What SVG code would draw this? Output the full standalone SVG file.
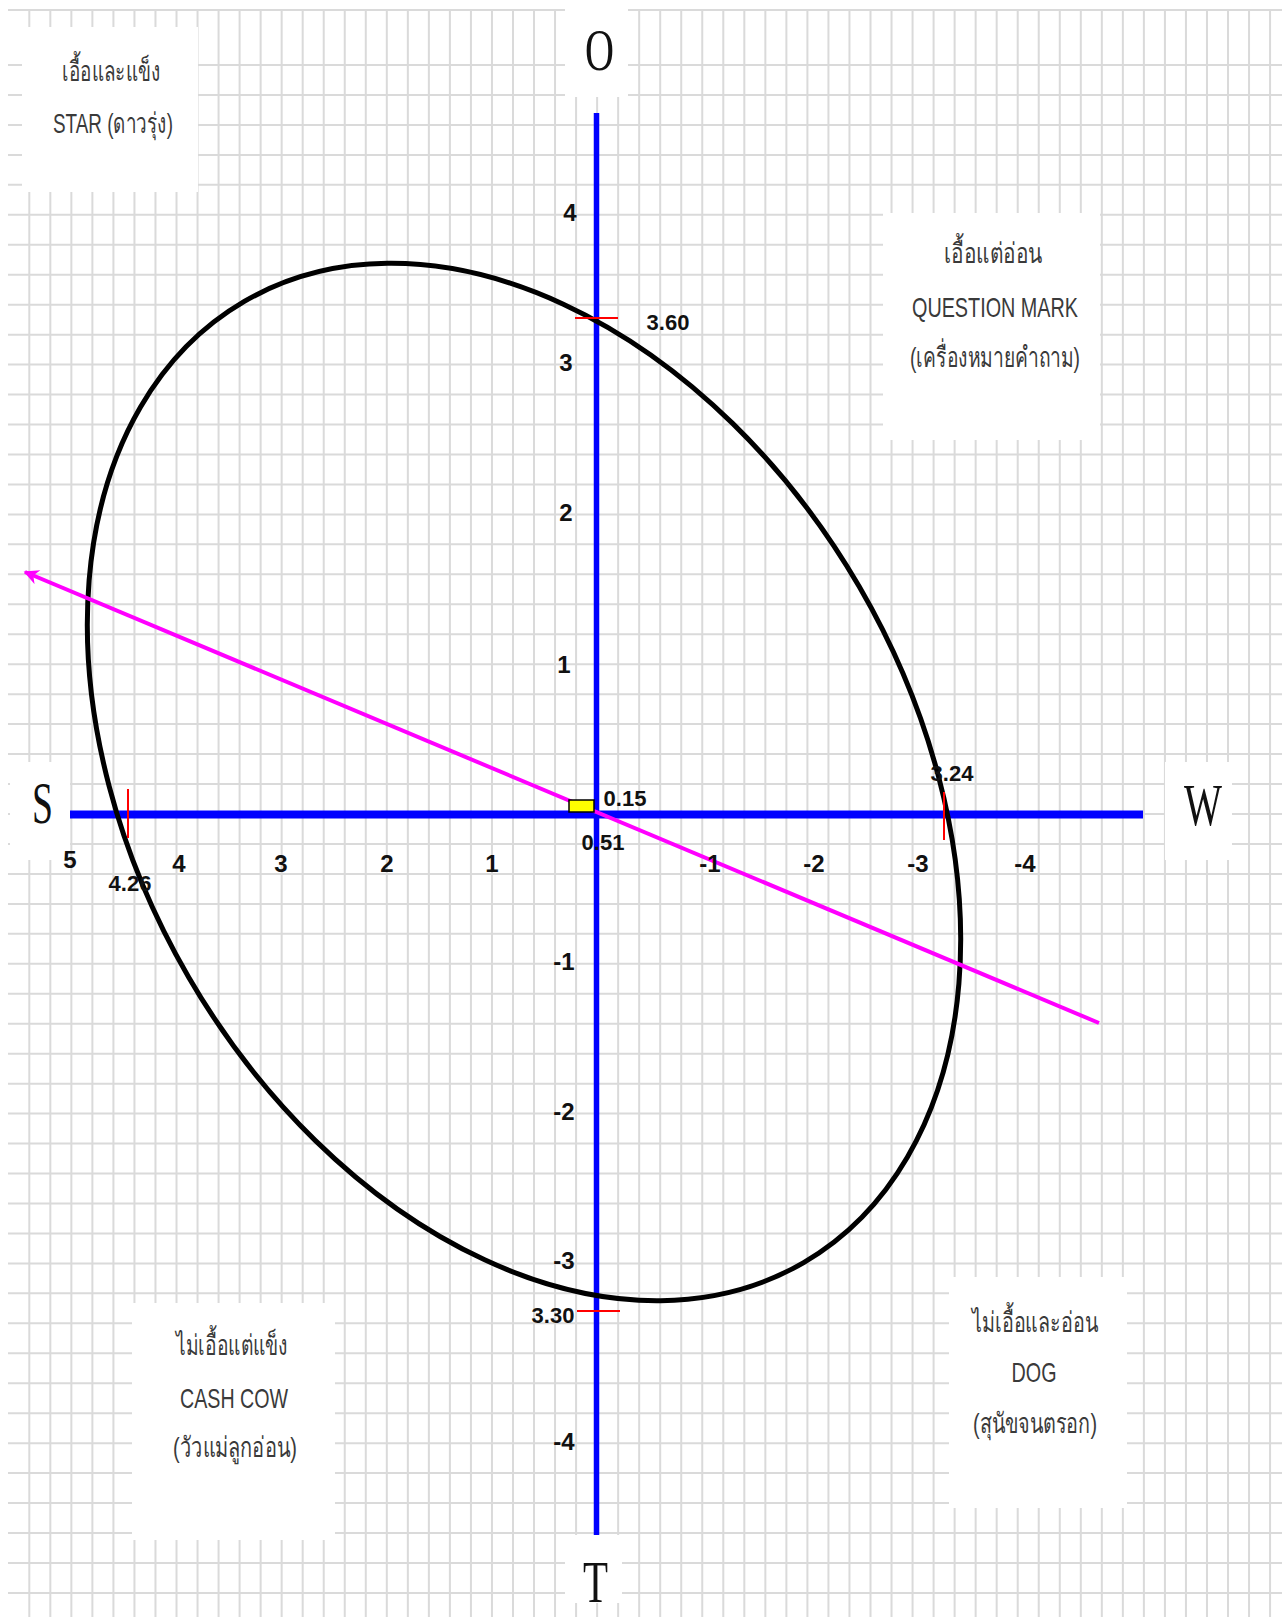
<svg xmlns="http://www.w3.org/2000/svg" width="1282" height="1617" viewBox="0 0 1282 1617">
<style>
.grid{stroke:#dadada;stroke-width:2;fill:none}
.box{fill:#ffffff}
.q{font-family:"Liberation Sans","Noto Sans",sans-serif;font-size:28px;fill:#3a3a3a;text-anchor:middle}
.big{font-family:"Liberation Serif",serif;font-size:60px;fill:#111111;text-anchor:middle}
.tk{font-family:"Liberation Sans",sans-serif;font-size:24px;font-weight:bold;fill:#111111;text-anchor:middle}
.sm{font-family:"Liberation Sans",sans-serif;font-size:22px;font-weight:bold;fill:#111111;text-anchor:middle}
.axis{stroke:#0000ff;fill:none}
.red{stroke:#ff0000;stroke-width:2}
</style>
<defs>
<marker id="arr" viewBox="0 0 10 10" refX="9" refY="5" markerWidth="16" markerHeight="15" orient="auto-start-reverse" markerUnits="userSpaceOnUse">
<path d="M0,0 L10,5 L0,10 L3,5 Z" fill="#ff00ff"/>
</marker>
</defs>
<rect width="1282" height="1617" fill="#ffffff"/>
<g id="grid">
<path class="grid" d="M29.3 10V1617M50.33 10V1617M71.36 10V1617M92.39 10V1617M113.42 10V1617M134.45 10V1617M155.48 10V1617M176.51 10V1617M197.54 10V1617M218.57 10V1617M239.6 10V1617M260.63 10V1617M281.66 10V1617M302.69 10V1617M323.72 10V1617M344.75 10V1617M365.78 10V1617M386.81 10V1617M407.84 10V1617M428.87 10V1617M449.9 10V1617M470.93 10V1617M491.96 10V1617M512.99 10V1617M534.02 10V1617M555.05 10V1617M576.08 10V1617M597.11 10V1617M618.14 10V1617M639.17 10V1617M660.2 10V1617M681.23 10V1617M702.26 10V1617M723.29 10V1617M744.32 10V1617M765.35 10V1617M786.38 10V1617M807.41 10V1617M828.44 10V1617M849.47 10V1617M870.5 10V1617M891.53 10V1617M912.56 10V1617M933.59 10V1617M954.62 10V1617M975.65 10V1617M996.68 10V1617M1017.71 10V1617M1038.74 10V1617M1059.77 10V1617M1080.8 10V1617M1101.83 10V1617M1122.86 10V1617M1143.89 10V1617M1164.92 10V1617M1185.95 10V1617M1206.98 10V1617M1228.01 10V1617M1249.04 10V1617M1270.07 10V1617"/>
<path class="grid" d="M8 10H1282M8 65H1282M8 94.96H1282M8 124.92H1282M8 154.88H1282M8 184.84H1282M8 214.8H1282M8 244.76H1282M8 274.72H1282M8 304.68H1282M8 334.64H1282M8 364.6H1282M8 394.56H1282M8 424.52H1282M8 454.48H1282M8 484.44H1282M8 514.4H1282M8 544.36H1282M8 574.32H1282M8 604.28H1282M8 634.24H1282M8 664.2H1282M8 694.16H1282M8 724.12H1282M8 754.08H1282M8 784.04H1282M8 814H1282M8 843.96H1282M8 873.92H1282M8 903.88H1282M8 933.84H1282M8 963.8H1282M8 993.76H1282M8 1023.72H1282M8 1053.68H1282M8 1083.64H1282M8 1113.6H1282M8 1143.56H1282M8 1173.52H1282M8 1203.48H1282M8 1233.44H1282M8 1263.4H1282M8 1293.36H1282M8 1323.32H1282M8 1353.28H1282M8 1383.24H1282M8 1413.2H1282M8 1443.16H1282M8 1473.12H1282M8 1503.08H1282M8 1533.04H1282M8 1563H1282M8 1592.96H1282"/>
</g>
<g id="star">
<rect class="box" x="22" y="27" width="176" height="165"/>
<text class="q" x="111" y="81" textLength="98" lengthAdjust="spacingAndGlyphs">เอื้อและแข็ง</text>
<text class="q" x="113" y="133" textLength="120" lengthAdjust="spacingAndGlyphs">STAR (ดาวรุ่ง)</text>
</g>
<g id="question-mark">
<rect class="box" x="883" y="213" width="217" height="227"/>
<text class="q" x="993" y="263" textLength="99" lengthAdjust="spacingAndGlyphs">เอื้อแต่อ่อน</text>
<text class="q" x="995" y="317" textLength="166" lengthAdjust="spacingAndGlyphs">QUESTION  MARK</text>
<text class="q" x="995" y="367" textLength="170" lengthAdjust="spacingAndGlyphs">(เครื่องหมายคำถาม)</text>
</g>
<g id="cash-cow">
<rect class="box" x="132" y="1303" width="203" height="237"/>
<text class="q" x="232" y="1355" textLength="112" lengthAdjust="spacingAndGlyphs">ไม่เอื้อแต่แข็ง</text>
<text class="q" x="234" y="1408" textLength="108" lengthAdjust="spacingAndGlyphs">CASH  COW</text>
<text class="q" x="235" y="1457" textLength="124" lengthAdjust="spacingAndGlyphs">(วัวแม่ลูกอ่อน)</text>
</g>
<g id="dog">
<rect class="box" x="949" y="1277" width="178" height="231"/>
<text class="q" x="1035" y="1332" textLength="126" lengthAdjust="spacingAndGlyphs">ไม่เอื้อและอ่อน</text>
<text class="q" x="1034" y="1382" textLength="45" lengthAdjust="spacingAndGlyphs">DOG</text>
<text class="q" x="1035" y="1433" textLength="124" lengthAdjust="spacingAndGlyphs">(สุนัขจนตรอก)</text>
</g>
<g id="label-o">
<rect class="box" x="565" y="4" width="63" height="93"/>
<text class="big" x="599.5" y="70" textLength="29" lengthAdjust="spacingAndGlyphs">O</text>
</g>
<g id="label-s">
<rect class="box" x="10" y="762" width="60" height="98"/>
<text class="big" x="42.5" y="823" textLength="21" lengthAdjust="spacingAndGlyphs">S</text>
</g>
<g id="label-w">
<rect class="box" x="1165" y="762" width="67" height="98"/>
<text class="big" x="1203" y="825" textLength="38" lengthAdjust="spacingAndGlyphs">W</text>
</g>
<g id="label-t">
<rect class="box" x="565" y="1535" width="57" height="68"/>
<text class="big" x="595.5" y="1602" textLength="25" lengthAdjust="spacingAndGlyphs">T</text>
</g>
<g id="connectors">
<line class="axis" x1="596.5" y1="113" x2="596.5" y2="1535" stroke-width="5.5"/>
<line class="axis" x1="70" y1="814.5" x2="1143" y2="814.5" stroke-width="8"/>
<ellipse cx="524" cy="782" rx="556" ry="388" transform="rotate(59.8 524 782)" fill="none" stroke="#000000" stroke-width="5"/>
<line x1="1099" y1="1023" x2="25" y2="572" stroke="#ff00ff" stroke-width="4" marker-end="url(#arr)"/>
<line class="red" x1="575" y1="318" x2="618" y2="318"/>
<line class="red" x1="577" y1="1311" x2="620" y2="1311"/>
<line class="red" x1="128" y1="789" x2="128" y2="838"/>
<line class="red" x1="944" y1="792" x2="944" y2="840"/>
<rect x="569" y="800" width="25" height="12" fill="#ffff00" stroke="#000000" stroke-width="1.5"/>
</g>
<g id="tick-labels">
<text class="tk" x="570" y="221">4</text>
<text class="tk" x="566" y="371">3</text>
<text class="tk" x="566" y="521">2</text>
<text class="tk" x="564" y="673">1</text>
<text class="tk" x="564" y="970">-1</text>
<text class="tk" x="564" y="1120">-2</text>
<text class="tk" x="564" y="1269">-3</text>
<text class="tk" x="564" y="1450">-4</text>
<text class="tk" x="70" y="868">5</text>
<text class="tk" x="179" y="872">4</text>
<text class="tk" x="281" y="872">3</text>
<text class="tk" x="387" y="872">2</text>
<text class="tk" x="492" y="872">1</text>
<text class="tk" x="710" y="872">-1</text>
<text class="tk" x="814" y="872">-2</text>
<text class="tk" x="918" y="872">-3</text>
<text class="tk" x="1025" y="872">-4</text>
</g>
<g id="value-labels">
<text class="sm" x="668" y="330">3.60</text>
<text class="sm" x="553" y="1323">3.30</text>
<text class="sm" x="130" y="891">4.26</text>
<text class="sm" x="952" y="781">3.24</text>
<text class="sm" x="625" y="806">0.15</text>
<text class="sm" x="603" y="850">0.51</text>
</g>
</svg>
